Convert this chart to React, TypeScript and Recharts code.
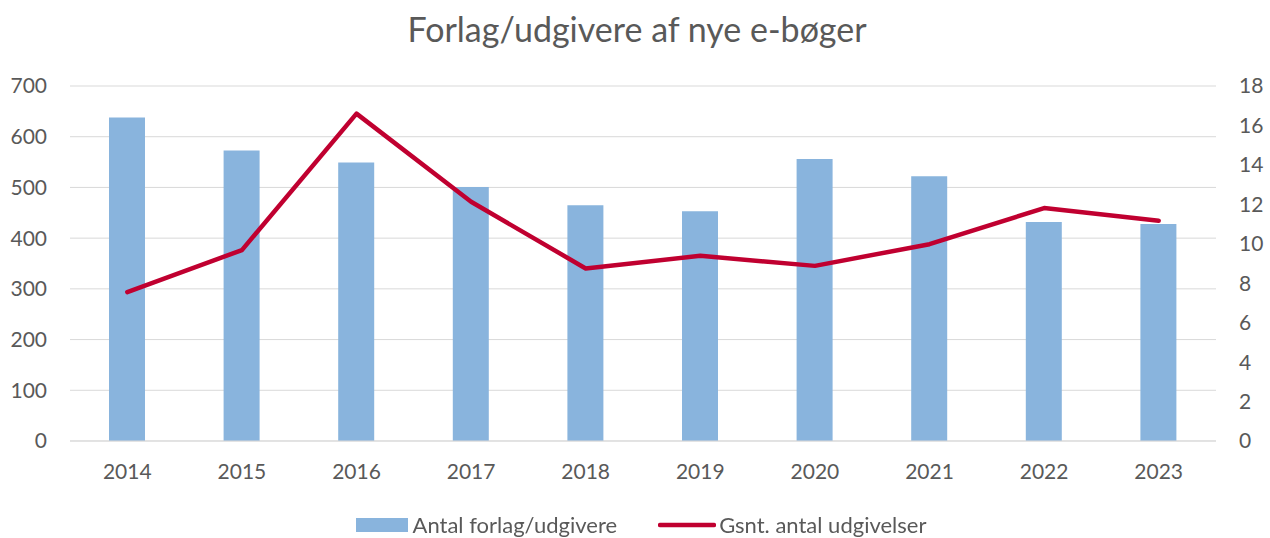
import { ComposedChart, Bar, Line, XAxis, YAxis, CartesianGrid, Legend } from "recharts"

const years = ["2014", "2015", "2016", "2017", "2018", "2019", "2020", "2021", "2022", "2023"]
const publishers = [638, 573, 549, 501, 465, 453, 556, 522, 432, 428]
const avgReleases = [7.55, 9.68, 16.6, 12.13, 8.75, 9.39, 8.88, 9.98, 11.81, 11.17]

const leftTicks = [0, 100, 200, 300, 400, 500, 600, 700]
const rightTicks = [0, 2, 4, 6, 8, 10, 12, 14, 16, 18]

const BAR_COLOR = "#89B4DD"
const LINE_COLOR = "#C00030"
const TEXT_COLOR = "#595959"
const FONT = "Lato, 'Open Sans', sans-serif"

const data = years.map((year, i) => ({
  year,
  publishers: publishers[i],
  avg: avgReleases[i],
}))

function ChartLegend() {
  return (
    <div
      style={{
        display: "flex",
        justifyContent: "center",
        alignItems: "center",
        height: 28,
        paddingLeft: 12,
        fontFamily: FONT,
        fontSize: 22,
        lineHeight: "28px",
        color: TEXT_COLOR,
      }}
    >
      <span style={{ display: "inline-block", width: 52, height: 14, background: BAR_COLOR, marginRight: 5 }} />
      <span>Antal forlag/udgivere</span>
      <svg width={58} height={8} style={{ marginLeft: 41, marginRight: 3 }}>
        <line x1={2} y1={4} x2={56} y2={4} stroke={LINE_COLOR} strokeWidth={4.5} strokeLinecap="round" />
      </svg>
      <span>Gsnt. antal udgivelser</span>
    </div>
  )
}

export default function App() {
  return (
    <div
      style={{
        position: "fixed",
        left: 0,
        top: 0,
        width: 1270,
        height: 538,
        background: "#fff",
        fontFamily: FONT,
      }}
    >
      <div
        style={{
          position: "absolute",
          top: 12,
          left: 0,
          width: 1274,
          textAlign: "center",
          fontSize: 34,
          lineHeight: 1,
          color: TEXT_COLOR,
        }}
      >
        Forlag/udgivere af nye e-bøger
      </div>
      <ComposedChart
        width={1270}
        height={538}
        data={data}
        margin={{ top: 86, right: 0, bottom: 57, left: 0 }}
      >
        <CartesianGrid yAxisId="left" vertical={false} stroke="#D9D9D9" strokeWidth={1} />
        <XAxis
          dataKey="year"
          height={40}
          tickLine={false}
          tickSize={0}
          tickMargin={23}
          axisLine={{ stroke: "#D9D9D9" }}
          tick={{ fill: TEXT_COLOR, fontSize: 21, fontFamily: FONT }}
        />
        <YAxis
          yAxisId="left"
          width={70}
          domain={[0, 700]}
          ticks={leftTicks}
          axisLine={false}
          tickLine={false}
          tickSize={0}
          tickMargin={23}
          tick={{ fill: TEXT_COLOR, fontSize: 21, fontFamily: FONT }}
        />
        <YAxis
          yAxisId="right"
          orientation="right"
          width={54}
          domain={[0, 18]}
          ticks={rightTicks}
          axisLine={false}
          tickLine={false}
          tickSize={0}
          tickMargin={23}
          tick={{ fill: TEXT_COLOR, fontSize: 21, fontFamily: FONT, textAnchor: "start" }}
        />
        <Bar
          yAxisId="left"
          dataKey="publishers"
          name="Antal forlag/udgivere"
          fill={BAR_COLOR}
          barSize={36}
          isAnimationActive={false}
        />
        <Line
          yAxisId="right"
          type="linear"
          dataKey="avg"
          name="Gsnt. antal udgivelser"
          stroke={LINE_COLOR}
          strokeWidth={4.5}
          strokeLinecap="round"
          strokeLinejoin="round"
          dot={false}
          activeDot={false}
          isAnimationActive={false}
        />
        <Legend
          verticalAlign="middle"
          align="center"
          layout="horizontal"
          content={() => <ChartLegend />}
          wrapperStyle={{ top: 511, left: 0, width: 1270, height: 28 }}
        />
      </ComposedChart>
    </div>
  )
}
